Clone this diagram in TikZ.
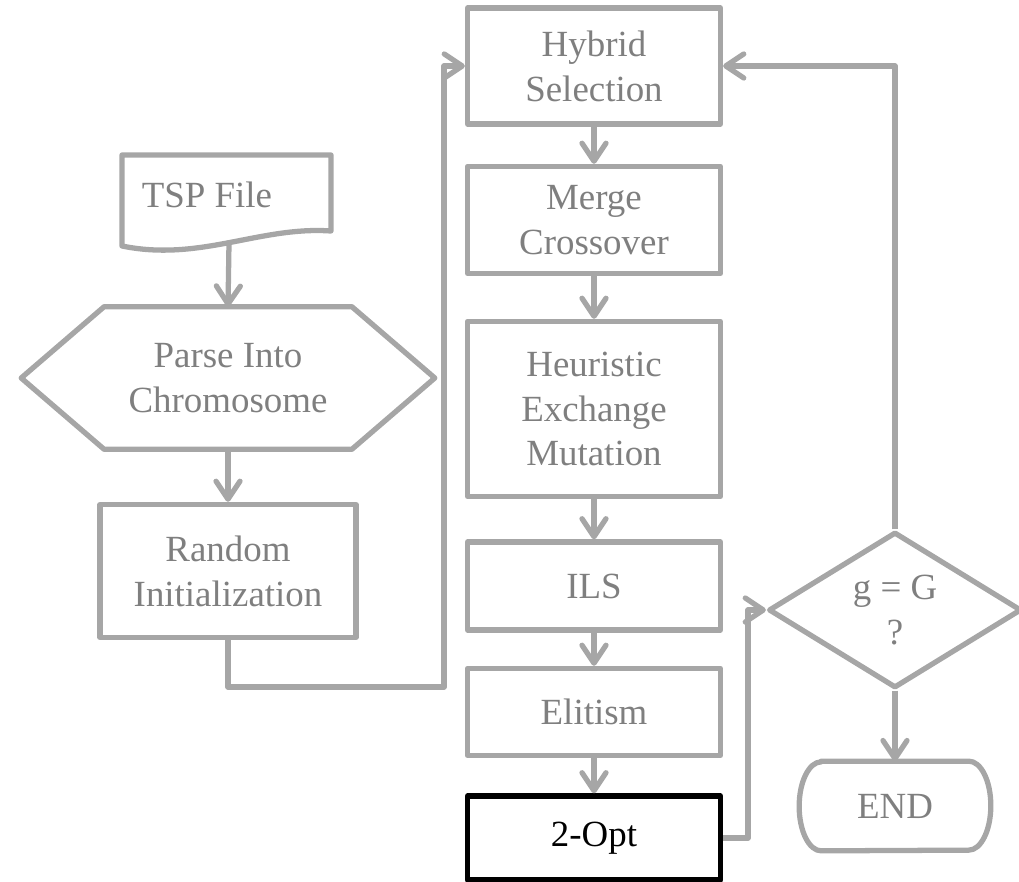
\documentclass[tikz,border=0pt]{standalone}
\usepackage{fontspec}
\setmainfont{Liberation Serif}
\usetikzlibrary{arrows.meta,shapes.geometric}
\definecolor{linegray}{HTML}{A6A6A6}
\definecolor{textgray}{HTML}{7F7F7F}

\begin{document}
\begin{tikzpicture}[x=0.02cm, y=-0.02cm,
        flow/.style={draw=linegray, line width=3pt, line join=round},
        flowarrow/.style={flow, -{Straight Barb[length=3.6mm, width=4.8mm, round]}},
        txt/.style={text=textgray, font=\fontsize{21}{25.5}\selectfont, align=center},
        stepbox/.style={txt, flow, minimum width=5.06cm}]
        \useasboundingbox (0,0) rectangle (1019,882);

        % Left column: reading the file and building the first population
        % TSP file (document shape with a wavy bottom edge)
        \draw[flow] (122,155) -- (331,155) -- (331,231)
            .. controls (260,226) and (200,262) .. (122,246) -- cycle;
        \node[txt] (tsp) at (207,195) {TSP File};
        \coordinate (tspbot) at (229,243);

        % Hexagon: parse step
        \node[txt, minimum width=8.26cm, minimum height=2.84cm] (parse) at (228,378) {Parse Into\\Chromosome};
        \draw[flow] (parse.west) -- ([xshift=1.66cm]parse.north west) -- ([xshift=-1.66cm]parse.north east)
            -- (parse.east) -- ([xshift=-1.66cm]parse.south east) -- ([xshift=1.66cm]parse.south west) -- cycle;

        \node[stepbox, minimum width=5.12cm, minimum height=2.66cm] (init) at (228,571) {Random\\Initialization};

        % Middle column: one generation of the GA
        \node[stepbox, minimum height=2.32cm] (hybrid) at (594,66) {Hybrid\\Selection};
        \node[stepbox, minimum height=2.14cm] (merge) at (594,220) {Merge\\Crossover};
        \node[stepbox, minimum height=3.5cm] (heur) at (594,409) {Heuristic\\Exchange\\Mutation};
        \node[stepbox, minimum height=1.76cm] (ils) at (594,586) {ILS};
        \node[stepbox, minimum height=1.74cm] (elit) at (594,712) {Elitism};
        \node[stepbox, draw=black, text=black, minimum height=1.68cm] (opt) at (594,838) {2-Opt};

        % Right column: stop test and end
        \node[txt, flow, diamond, minimum width=5.06cm, minimum height=3.12cm, inner sep=0pt] (test) at (895,610) {g = G\\?};
        \node[txt, minimum width=3.82cm, minimum height=1.78cm] (end) at (895,806) {END};
        \draw[flow] ([xshift=0.44cm]end.north west) -- ([xshift=-0.44cm]end.north east)
            arc[start angle=90, end angle=-90, x radius=0.44cm, y radius=0.89cm]
            -- ([xshift=0.44cm]end.south west)
            arc[start angle=270, end angle=90, x radius=0.44cm, y radius=0.89cm] -- cycle;

        % Connectors
        \draw[flowarrow] (tspbot) -- (parse.north);
        \draw[flowarrow] (parse.south) -- (init.north);
        \draw[flowarrow] (init.south) -- ++(0,47) -| ([xshift=-0.42cm]hybrid.west) -- (hybrid.west);
        \draw[flowarrow] (hybrid) -- (merge);
        \draw[flowarrow] (merge) -- (heur);
        \draw[flowarrow] (heur) -- (ils);
        \draw[flowarrow] (ils) -- (elit);
        \draw[flowarrow] (elit) -- (opt);
        \draw[flowarrow] (opt.east) -- ++(0.5cm,0) |- (test.west);
        \draw[flowarrow] (test.north) |- (hybrid.east);
        \draw[flowarrow] (test) -- (end);
\end{tikzpicture}
\end{document}
